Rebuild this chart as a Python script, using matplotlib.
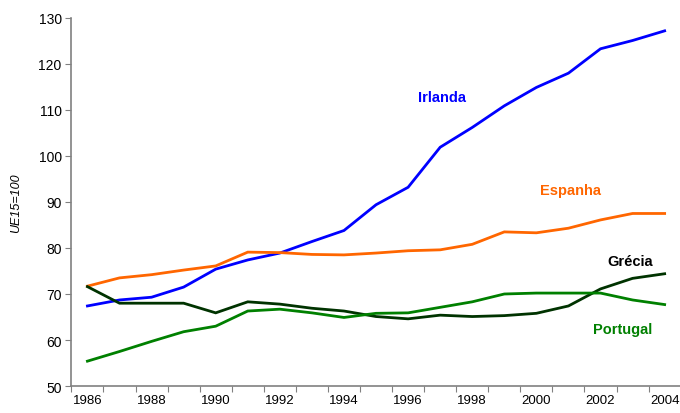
import matplotlib
matplotlib.use("Agg")
import matplotlib.pyplot as plt
import numpy as np

# ----------- Data (UE15 = 100) -----------

years = list(range(1986, 2005))

irlanda = [67.4, 68.7, 69.3, 71.5, 75.4, 77.4, 78.9, 81.4, 83.8, 89.4,
           93.2, 101.9, 106.2, 110.9, 114.9, 118.0, 123.3, 125.1, 127.2]
espanha = [71.7, 73.5, 74.2, 75.2, 76.1, 79.1, 79.0, 78.6, 78.5, 78.9,
           79.4, 79.6, 80.8, 83.5, 83.3, 84.3, 86.1, 87.5, 87.5]
grecia = [71.6, 68.0, 68.0, 68.0, 65.9, 68.3, 67.8, 66.9, 66.3, 65.1,
          64.6, 65.4, 65.1, 65.3, 65.8, 67.4, 71.1, 73.4, 74.4]
portugal = [55.4, 57.5, 59.7, 61.8, 63.0, 66.3, 66.7, 65.9, 64.9, 65.8,
            65.9, 67.1, 68.3, 70.0, 70.2, 70.2, 70.2, 68.7, 67.7]

series = [
    ("Irlanda", irlanda, "#0000FF", "#0000FF", 11.07, 112.8),
    ("Espanha", espanha, "#FF6600", "#FF6600", 15.06, 92.6),
    ("Grécia", grecia, "#003300", "#000000", 16.93, 77.2),
    ("Portugal", portugal, "#008000", "#008000", 16.7, 62.4),
]

plt.rcParams["font.family"] = ["Liberation Sans", "DejaVu Sans"]

fig = plt.figure(figsize=(6.8, 4.14), dpi=100)
ax = fig.add_axes([0.105, 0.0652, 0.896, 0.889])

x = np.arange(len(years))
for name, vals, col, txtcol, lx, ly in series:
    ax.plot(x, vals, color=col, lw=2.0, solid_joinstyle="miter")
    ax.text(lx, ly, name, color=txtcol, fontsize=10.5, fontweight="bold",
            ha="center", va="center")

ax.set_xlim(-0.5, len(years) - 0.5)
ax.set_ylim(50, 130)
ax.set_yticks(range(50, 131, 10))

# category axis: ticks between years, labels every other year
ax.set_xticks(np.arange(-0.5, len(years), 1.0))
ax.set_xticklabels([])
ax.set_xticks(x[::2], minor=True)
ax.set_xticklabels([str(y) for y in years[::2]], minor=True)
ax.tick_params(axis="x", which="minor", length=0, pad=6, labelsize=9.5)
ax.tick_params(axis="x", which="major", length=4, color="#808080", direction="out")
ax.tick_params(axis="y", length=4, color="#808080", labelsize=10, pad=3)

for s in ["top", "right"]:
    ax.spines[s].set_visible(False)
for s in ["left", "bottom"]:
    ax.spines[s].set_color("#808080")
    ax.spines[s].set_linewidth(1.2)

ax.set_ylabel("UE15=100", fontsize=9, style="italic", labelpad=12)

fig.savefig("out.png", dpi=100)
